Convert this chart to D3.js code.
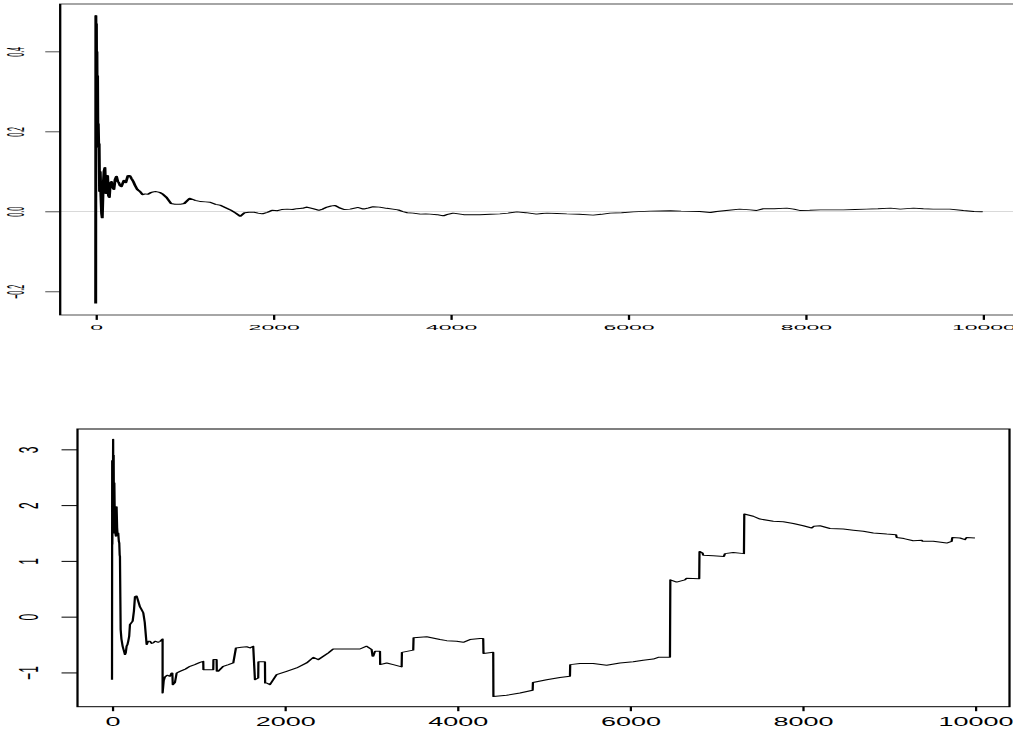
<!DOCTYPE html>
<html>
<head>
<meta charset="utf-8">
<script src="https://cdn.jsdelivr.net/npm/d3@7"></script>
<style>
  html, body { margin: 0; padding: 0; background: #fff; }
  svg { display: block; }
</style>
</head>
<body>
<script>
// ---- running mean (upper panel) ----
const meanX = [1, 3, 6, 9, 12, 15, 18, 22, 26, 30, 35, 40, 45, 52, 60, 68, 75, 85, 95, 105,
  115, 125, 135, 145, 155, 165, 178, 192, 206, 220, 235, 250, 262, 275, 290, 305, 320, 340, 365, 385,
  405, 425, 445, 470, 500, 530, 560, 590, 620, 650, 680, 720, 760, 800, 850, 900, 950, 1000, 1060, 1120,
  1180, 1240, 1290, 1350, 1400, 1460, 1520, 1580, 1630, 1680, 1730, 1780, 1830, 1880, 1940, 1990, 2050, 2100, 2160, 2220,
  2270, 2330, 2380, 2450, 2520, 2560, 2610, 2660, 2700, 2750, 2800, 2870, 2960, 3020, 3080, 3130, 3200, 3280, 3350, 3410,
  3460, 3510, 3580, 3660, 3720, 3770, 3850, 3920, 3970, 4030, 4090, 4150, 4250, 4330, 4450, 4560, 4650, 4750, 4850, 4970,
  5030, 5090, 5200, 5310, 5450, 5610, 5700, 5800, 5930, 6060, 6250, 6480, 6600, 6810, 6930, 7000, 7110, 7260, 7380, 7450,
  7530, 7650, 7790, 7870, 7940, 8050, 8170, 8300, 8430, 8560, 8690, 8820, 8960, 9070, 9220, 9330, 9440, 9630, 9780, 9900,
  10000];
const meanY = [-0.23, 0.49, 0.33, 0.47, 0.26, 0.40, 0.20, 0.34, 0.17, 0.22, 0.16, 0.17, 0.05, 0.10, 0.04, -0.005, -0.016, 0.06, 0.10, 0.11,
  0.045, 0.075, 0.09, 0.04, 0.035, 0.07, 0.075, 0.06, 0.055, 0.08, 0.088, 0.075, 0.072, 0.065, 0.062, 0.07, 0.078, 0.072, 0.09, 0.09,
  0.082, 0.075, 0.065, 0.055, 0.05, 0.042, 0.044, 0.043, 0.047, 0.049, 0.05, 0.048, 0.043, 0.035, 0.02, 0.018, 0.018, 0.02, 0.033, 0.028,
  0.025, 0.024, 0.023, 0.018, 0.016, 0.01, 0.004, -0.004, -0.012, -0.003, -0.002, -0.0015, -0.004, -0.006, -0.002, 0.003, 0.002, 0.005, 0.006, 0.005,
  0.007, 0.008, 0.011, 0.007, 0.003, 0.006, 0.011, 0.014, 0.015, 0.009, 0.005, 0.006, 0.01, 0.006, 0.009, 0.012, 0.011, 0.008, 0.006, 0.004,
  0.0, -0.003, -0.004, -0.0065, -0.006, -0.0065, -0.008, -0.011, -0.007, -0.004, -0.006, -0.008, -0.008, -0.008, -0.007, -0.006, -0.004, -0.001, -0.003, -0.0065,
  -0.005, -0.004, -0.005, -0.006, -0.007, -0.009, -0.007, -0.004, -0.003, -0.001, 0.001, 0.002, 0.001, 0.0, -0.0025, 0.0, 0.0025, 0.006, 0.004, 0.0025,
  0.007, 0.007, 0.0085, 0.006, 0.0025, 0.003, 0.004, 0.004, 0.004, 0.005, 0.006, 0.007, 0.0085, 0.006, 0.0085, 0.007, 0.006, 0.006, 0.0025, 0.0,
  -0.0008];

// ---- standardised path (lower panel) ----
const pathX = [1, 3, 5, 8, 11, 14, 17, 20, 24, 28, 32, 36, 40, 46, 50, 54, 60, 66, 73, 80,
  85, 90, 93, 97, 101, 110, 124, 140, 151, 160, 170, 180, 189, 200, 209, 220, 240, 255, 267, 286,
  300, 324, 345, 363, 380, 402, 420, 440, 460, 479, 500, 537, 560, 587, 587, 600, 614, 640, 672, 691,
  700, 705, 730, 750, 788, 850, 904, 960, 1020, 1058, 1060, 1174, 1176, 1213, 1215, 1232, 1290, 1350, 1406, 1437,
  1500, 1561, 1600, 1637, 1657, 1695, 1697, 1773, 1775, 1792, 1831, 1908, 2024, 2140, 2256, 2333, 2391, 2506, 2564, 2680,
  2874, 2951, 3009, 3020, 3028, 3048, 3106, 3108, 3183, 3260, 3357, 3360, 3491, 3495, 3647, 3801, 3878, 3994, 4071, 4148,
  4264, 4302, 4305, 4418, 4420, 4573, 4728, 4875, 4878, 5037, 5191, 5307, 5310, 5423, 5577, 5732, 5886, 6040, 6156, 6272,
  6330, 6466, 6470, 6543, 6639, 6659, 6805, 6808, 6844, 6851, 6967, 7091, 7103, 7199, 7323, 7327, 7431, 7509, 7663, 7779,
  7895, 8011, 8108, 8134, 8204, 8320, 8474, 8590, 8706, 8822, 8977, 9085, 9093, 9177, 9285, 9383, 9394, 9517, 9672, 9730,
  9737, 9826, 9884, 9904, 10000];
const pathY = [-1.13, 2.8, 1.3, 2.7, 2.2, 3.18, 1.6, 2.9, 1.5, 2.4, 1.9, 1.97, 1.5, 1.44, 1.9, 1.97, 1.6, 1.45, 1.5, 1.35,
  1.32, 1.1, 1.08, 0.4, -0.23, -0.4, -0.53, -0.62, -0.68, -0.65, -0.53, -0.5, -0.44, -0.35, -0.14, -0.12, -0.08, 0.1, 0.36, 0.37,
  0.30, 0.18, 0.12, 0.07, -0.1, -0.50, -0.44, -0.44, -0.48, -0.47, -0.44, -0.46, -0.44, -0.40, -1.37, -1.15, -1.08, -1.05, -1.07, -1.01,
  -1.01, -1.22, -1.18, -1.01, -0.98, -0.94, -0.89, -0.86, -0.82, -0.80, -0.95, -0.95, -0.77, -0.77, -0.98, -0.98, -0.89, -0.86, -0.83, -0.56,
  -0.55, -0.54, -0.56, -0.53, -1.13, -1.10, -0.81, -0.81, -1.19, -1.19, -1.22, -1.04, -0.98, -0.92, -0.83, -0.73, -0.77, -0.65, -0.58, -0.58,
  -0.58, -0.53, -0.59, -0.71, -0.71, -0.62, -0.62, -0.86, -0.83, -0.86, -0.90, -0.64, -0.60, -0.38, -0.36, -0.41, -0.43, -0.44, -0.46, -0.41,
  -0.39, -0.39, -0.66, -0.64, -1.43, -1.41, -1.37, -1.32, -1.18, -1.13, -1.09, -1.07, -0.86, -0.84, -0.84, -0.87, -0.83, -0.81, -0.78, -0.76,
  -0.73, -0.73, 0.66, 0.62, 0.66, 0.69, 0.68, 1.17, 1.14, 1.10, 1.09, 1.08, 1.13, 1.15, 1.13, 1.84, 1.80, 1.75, 1.71, 1.70,
  1.67, 1.63, 1.59, 1.62, 1.63, 1.58, 1.57, 1.55, 1.53, 1.50, 1.48, 1.47, 1.42, 1.40, 1.36, 1.37, 1.35, 1.35, 1.32, 1.35,
  1.42, 1.41, 1.38, 1.42, 1.41];

// ---- tick labels ----
const xTicks = [0, 2000, 4000, 6000, 8000, 10000];
const meanTicks = [-0.2, 0.0, 0.2, 0.4];
const pathTicks = [-1, 0, 1, 2, 3];

const W = 1013, H = 734;
const svg = d3.select("body").append("svg").attr("width", W).attr("height", H);

// R-style axis range: data extent widened by 4% on each side
function padExtent(v) {
  const [a, b] = d3.extent(v);
  const p = (b - a) * 0.04;
  return [a - p, b + p];
}

// Each panel is drawn in its own stretched frame (sx, sy), so text and
// strokes are stretched horizontally and squashed vertically.
function drawPanel(o) {
  const g = svg.append("g").attr("transform", `scale(${o.sx},${o.sy})`);
  const x = d3.scaleLinear().domain(padExtent(o.xs))
    .range([o.left / o.sx, o.right / o.sx]);
  const y = d3.scaleLinear().domain(padExtent(o.ys))
    .range([o.bottom / o.sy, o.top / o.sy]);

  const font = "'Liberation Sans', Arial, Helvetica, sans-serif";

  // reference line at zero
  if (o.zeroLine) {
    g.append("line")
      .attr("x1", x.range()[0]).attr("x2", x.range()[1])
      .attr("y1", y(0)).attr("y2", y(0))
      .attr("stroke", "#b4b4b4").attr("stroke-width", 1);
  }

  // series
  const line = d3.line().x((d, i) => x(o.xs[i])).y(d => y(d));
  g.append("path")
    .datum(o.ys)
    .attr("d", line)
    .attr("fill", "none")
    .attr("stroke", "#000")
    .attr("stroke-width", o.lineWidth)
    .attr("stroke-linejoin", "round");

  // x axis
  const gx = g.append("g")
    .attr("transform", `translate(0,${y.range()[0]})`)
    .call(d3.axisBottom(x).tickValues(xTicks).tickFormat(d3.format("d"))
      .tickSize(o.xTick).tickPadding(o.xPad));
  gx.select(".domain").remove();
  gx.selectAll("text").attr("font-family", font).attr("font-size", o.font).attr("fill", "#000");
  gx.selectAll("line").attr("stroke", "#000").attr("stroke-width", 1);

  // y axis with labels turned to read upwards
  const gy = g.append("g")
    .attr("transform", `translate(${x.range()[0]},0)`)
    .call(d3.axisLeft(y).tickValues(o.yTicks).tickFormat(o.yFormat)
      .tickSize(o.yTick));
  gy.select(".domain").remove();
  gy.selectAll("line").attr("stroke", "#000").attr("stroke-width", 1);
  gy.selectAll("text")
    .attr("font-family", font).attr("font-size", o.font).attr("fill", "#000")
    .attr("transform", "rotate(-90)")
    .attr("x", 0).attr("y", -o.yLab).attr("dy", "0.35em")
    .attr("text-anchor", "middle");

  // plot frame
  g.append("rect")
    .attr("x", x.range()[0]).attr("y", y.range()[1])
    .attr("width", x.range()[1] - x.range()[0])
    .attr("height", y.range()[0] - y.range()[1])
    .attr("fill", "none").attr("stroke", "#000").attr("stroke-width", 1);
}

drawPanel({
  xs: meanX, ys: meanY, yTicks: meanTicks, yFormat: d3.format(".1f"),
  sx: 2.3, sy: 0.7, left: 60.2, right: 1018.2, top: 4, bottom: 315,
  font: 10, xTick: 7, xPad: 7.3, yTick: 6.5, yLab: 19.2,
  lineWidth: 1.3, zeroLine: true
});

drawPanel({
  xs: pathX, ys: pathY, yTicks: pathTicks, yFormat: d3.format("d"),
  sx: 2.25, sy: 1.0, left: 77.5, right: 1009.5, top: 429, bottom: 706.7,
  font: 12, xTick: 4.5, xPad: 6.2, yTick: 7.1, yLab: 21.6,
  lineWidth: 1, zeroLine: false
});
</script>
</body>
</html>
